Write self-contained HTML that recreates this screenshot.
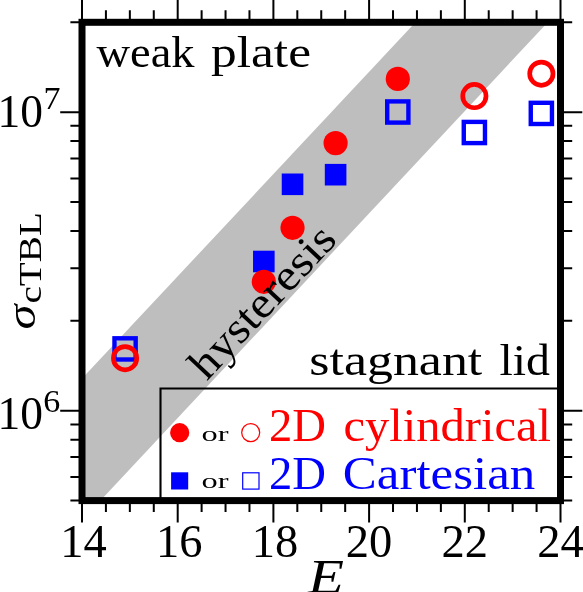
<!DOCTYPE html>
<html><head><meta charset="utf-8"><title>chart</title>
<style>
html,body{margin:0;padding:0;background:#fff;}
body{width:583px;height:592px;overflow:hidden;}
svg{display:block;}
#w{width:583px;height:592px;will-change:transform;}
text{font-family:"Liberation Serif",serif;}
</style></head><body>
<div id="w">
<svg width="583" height="592" viewBox="0 0 583 592">
<rect x="0" y="0" width="583" height="592" fill="#ffffff"/>
<polygon fill="#bebebe" points="82.0,378.5 415.5,22.3 547.8,22.3 100.5,500.6 82.0,500.6"/>
<path d="M82.00,22.3 V-5 M82.00,500.6 V522.4 M105.92,22.3 V10.3 M105.92,500.6 V511.9 M129.85,22.3 V10.3 M129.85,500.6 V511.9 M153.78,22.3 V10.3 M153.78,500.6 V511.9 M177.70,22.3 V-5 M177.70,500.6 V522.4 M201.62,22.3 V10.3 M201.62,500.6 V511.9 M225.55,22.3 V10.3 M225.55,500.6 V511.9 M249.47,22.3 V10.3 M249.47,500.6 V511.9 M273.40,22.3 V-5 M273.40,500.6 V522.4 M297.32,22.3 V10.3 M297.32,500.6 V511.9 M321.25,22.3 V10.3 M321.25,500.6 V511.9 M345.18,22.3 V10.3 M345.18,500.6 V511.9 M369.10,22.3 V-5 M369.10,500.6 V522.4 M393.02,22.3 V10.3 M393.02,500.6 V511.9 M416.95,22.3 V10.3 M416.95,500.6 V511.9 M440.88,22.3 V10.3 M440.88,500.6 V511.9 M464.80,22.3 V-5 M464.80,500.6 V522.4 M488.73,22.3 V10.3 M488.73,500.6 V511.9 M512.65,22.3 V10.3 M512.65,500.6 V511.9 M536.58,22.3 V10.3 M536.58,500.6 V511.9 M560.50,22.3 V-5 M560.50,500.6 V522.4 M82.0,500.60 H70.4 M560.5,500.60 H572.2 M82.0,476.96 H70.4 M560.5,476.96 H572.2 M82.0,456.97 H70.4 M560.5,456.97 H572.2 M82.0,439.66 H70.4 M560.5,439.66 H572.2 M82.0,424.39 H70.4 M560.5,424.39 H572.2 M82.0,410.73 H60.2 M560.5,410.73 H582.3 M82.0,320.85 H70.4 M560.5,320.85 H572.2 M82.0,268.28 H70.4 M560.5,268.28 H572.2 M82.0,230.98 H70.4 M560.5,230.98 H572.2 M82.0,202.05 H70.4 M560.5,202.05 H572.2 M82.0,178.41 H70.4 M560.5,178.41 H572.2 M82.0,158.42 H70.4 M560.5,158.42 H572.2 M82.0,141.11 H70.4 M560.5,141.11 H572.2 M82.0,125.83 H70.4 M560.5,125.83 H572.2 M82.0,112.17 H60.2 M560.5,112.17 H582.3 M82.0,22.30 H70.4 M560.5,22.30 H572.2" stroke="#000" stroke-width="2" fill="none"/>
<rect x="253.03" y="250.70" width="21.6" height="21.6" fill="#0000ff"/>
<rect x="281.74" y="173.50" width="21.6" height="21.6" fill="#0000ff"/>
<rect x="324.81" y="163.90" width="21.6" height="21.6" fill="#0000ff"/>
<rect x="114.47" y="338.30" width="21.2" height="21.2" fill="none" stroke="#0000ff" stroke-width="4.4"/>
<rect x="387.21" y="101.40" width="21.2" height="21.2" fill="none" stroke="#0000ff" stroke-width="4.4"/>
<rect x="463.77" y="121.90" width="21.2" height="21.2" fill="none" stroke="#0000ff" stroke-width="4.4"/>
<rect x="530.76" y="102.80" width="21.2" height="21.2" fill="none" stroke="#0000ff" stroke-width="4.4"/>
<circle cx="263.83" cy="281.80" r="12.1" fill="#ff0000"/>
<circle cx="292.54" cy="227.80" r="12.1" fill="#ff0000"/>
<circle cx="335.61" cy="143.10" r="12.1" fill="#ff0000"/>
<circle cx="397.81" cy="78.90" r="12.1" fill="#ff0000"/>
<circle cx="125.07" cy="358.20" r="11.65" fill="none" stroke="#ff0000" stroke-width="4.7"/>
<circle cx="474.37" cy="96.10" r="11.65" fill="none" stroke="#ff0000" stroke-width="4.7"/>
<circle cx="541.36" cy="73.70" r="11.65" fill="none" stroke="#ff0000" stroke-width="4.7"/>
<path d="M160.5,500.6 V388.55 H560.5" fill="none" stroke="#000" stroke-width="2.1"/>
<rect x="82.0" y="22.3" width="478.5" height="478.3" fill="none" stroke="#000" stroke-width="7"/>
<text x="83.5" y="556.8" font-size="47" fill="#000" text-anchor="middle" textLength="46.5" lengthAdjust="spacingAndGlyphs">14</text>
<text x="179.2" y="556.8" font-size="47" fill="#000" text-anchor="middle" textLength="46.5" lengthAdjust="spacingAndGlyphs">16</text>
<text x="274.9" y="556.8" font-size="47" fill="#000" text-anchor="middle" textLength="46.5" lengthAdjust="spacingAndGlyphs">18</text>
<text x="369.0" y="556.8" font-size="47" fill="#000" text-anchor="middle" textLength="46.5" lengthAdjust="spacingAndGlyphs">20</text>
<text x="464.7" y="556.8" font-size="47" fill="#000" text-anchor="middle" textLength="46.5" lengthAdjust="spacingAndGlyphs">22</text>
<text x="560.4" y="556.8" font-size="47" fill="#000" text-anchor="middle" textLength="46.5" lengthAdjust="spacingAndGlyphs">24</text>
<text x="-2.5" y="126.8" font-size="47" fill="#000" text-anchor="start" textLength="45.5" lengthAdjust="spacingAndGlyphs">10</text>
<text x="43.5" y="109.4" font-size="32.5" fill="#000" text-anchor="start" textLength="17" lengthAdjust="spacingAndGlyphs">7</text>
<text x="-2.5" y="428.8" font-size="47" fill="#000" text-anchor="start" textLength="45.5" lengthAdjust="spacingAndGlyphs">10</text>
<text x="43.3" y="412.4" font-size="32.5" fill="#000" text-anchor="start" textLength="17" lengthAdjust="spacingAndGlyphs">6</text>
<text x="96.5" y="67.4" font-size="44" fill="#000" text-anchor="start" textLength="98" lengthAdjust="spacingAndGlyphs">weak</text>
<text x="211" y="67.4" font-size="44" fill="#000" text-anchor="start" textLength="100" lengthAdjust="spacingAndGlyphs">plate</text>
<text x="309.3" y="375.2" font-size="44" fill="#000" text-anchor="start" textLength="173" lengthAdjust="spacingAndGlyphs">stagnant</text>
<text x="499.5" y="375.2" font-size="44" fill="#000" text-anchor="start" textLength="50.5" lengthAdjust="spacingAndGlyphs">lid</text>
<g transform="translate(206.7,381.4) rotate(-46.8)"><text x="0" y="0" font-size="44" fill="#000" text-anchor="start" textLength="192.5" lengthAdjust="spacingAndGlyphs">hysteresis</text>
</g>
<circle cx="179.7" cy="432.7" r="9.6" fill="#ff0000"/>
<circle cx="250.7" cy="432.6" r="9.0" fill="none" stroke="#ff0000" stroke-width="1.25"/>
<rect x="171.1" y="472.3" width="17.1" height="17.2" fill="#0000ff"/>
<rect x="242.7" y="472.8" width="16.3" height="16.3" fill="none" stroke="#0000ff" stroke-width="1.2"/>
<text x="201.5" y="441.0" font-size="22" fill="#000" text-anchor="start" textLength="27" lengthAdjust="spacingAndGlyphs">or</text>
<text x="201.5" y="488.4" font-size="22" fill="#000" text-anchor="start" textLength="27" lengthAdjust="spacingAndGlyphs">or</text>
<text x="269" y="440.8" font-size="46.5" fill="#ff0000" text-anchor="start" textLength="57" lengthAdjust="spacingAndGlyphs">2D</text>
<text x="343.5" y="440.8" font-size="46.5" fill="#ff0000" text-anchor="start" textLength="207.5" lengthAdjust="spacingAndGlyphs">cylindrical</text>
<text x="269" y="488.7" font-size="46.5" fill="#0000ff" text-anchor="start" textLength="57" lengthAdjust="spacingAndGlyphs">2D</text>
<text x="342.8" y="488.7" font-size="46.5" fill="#0000ff" text-anchor="start" textLength="192.5" lengthAdjust="spacingAndGlyphs">Cartesian</text>
<text x="308.0" y="593.3" font-size="49" font-style="italic" textLength="36" lengthAdjust="spacingAndGlyphs">E</text>
<g transform="translate(34.6,329.5) rotate(-90)"><text x="0" y="0" font-size="39" font-style="italic" textLength="25" lengthAdjust="spacingAndGlyphs">σ</text><text x="26" y="6.4" font-size="30.5" textLength="91.3" lengthAdjust="spacingAndGlyphs">cTBL</text></g>
</svg>
</div>
</body></html>
